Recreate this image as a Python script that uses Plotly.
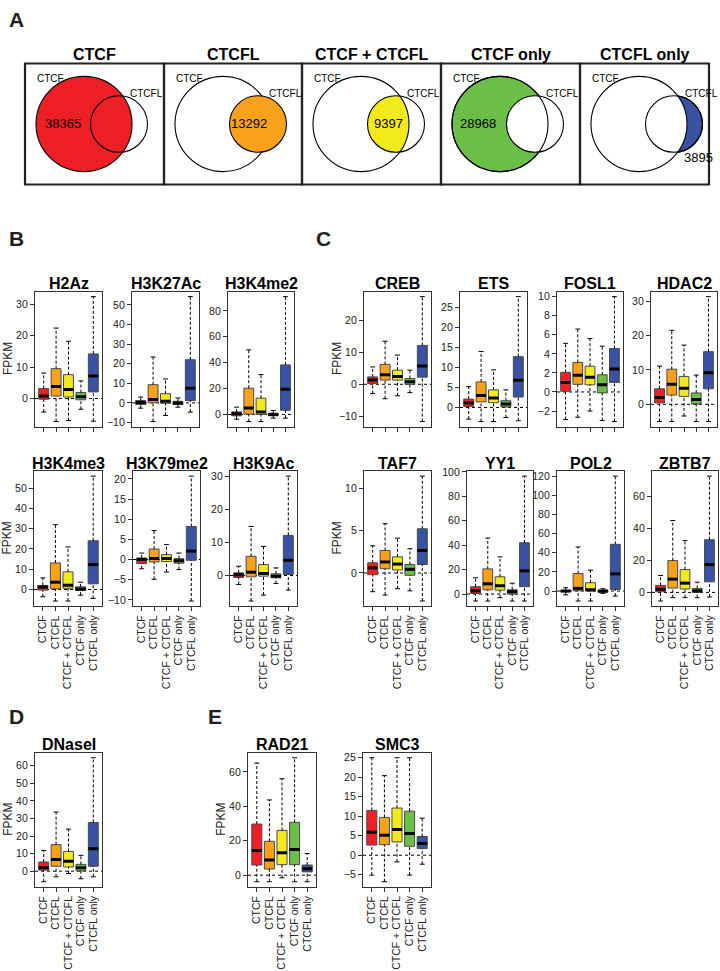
import numpy as np
import plotly.graph_objects as go

W, H = 720, 971
FONT = "Liberation Sans, Arial, sans-serif"

GROUPS = ["CTCF", "CTCFL", "CTCF + CTCFL", "CTCF only", "CTCFL only"]
GROUP_COLORS = ["#EE1F25", "#F8A11B", "#F3EA1C", "#6BBE46", "#3953A4"]
VENN_COUNTS = [38365, 13292, 9397, 28968, 3895]

# (lower whisker, Q1, median, Q3, upper whisker) for each group
H2AZ = [(-4.3, -0.2, 0.8, 3.2, 8.1), (-7.3, 0.8, 3.8, 9.5, 22.4), (-7.0, 0.5, 2.9, 7.6, 18.2),
        (-3.4, -0.4, 0.6, 1.9, 5.6), (-7.2, 2.1, 7.2, 14.2, 32.4)]
H3K27AC = [(-2.7, -0.8, 0.2, 1.2, 3.0), (-9.5, 0.1, 1.7, 9.3, 23.4), (-6.4, -0.2, 0.8, 4.7, 12.2),
           (-2.2, -0.8, 0.0, 0.8, 2.5), (-4.7, 1.2, 7.5, 22.0, 54.2)]
H3K4ME2 = [(-3.6, -1.0, 0.5, 2.0, 5.7), (-5.4, 0.3, 5.1, 20.3, 49.9), (-5.4, 0.0, 2.0, 12.6, 30.8),
           (-2.8, -1.0, 0.0, 1.0, 3.1), (-2.8, 3.3, 19.5, 38.3, 91.0)]
H3K4ME3 = [(-3.6, -0.3, 1.2, 2.0, 5.7), (-5.7, 0.3, 3.6, 13.1, 32.0), (-5.7, 0.6, 2.1, 8.7, 21.0),
           (-2.8, -0.5, 0.2, 1.3, 3.6), (-4.4, 2.8, 12.3, 24.1, 56.0)]
H3K79ME2 = [(-2.3, -1.0, 0.0, 0.4, 1.6), (-4.9, -0.6, 0.25, 2.6, 7.2), (-3.1, -0.5, 0.25, 1.2, 3.7),
            (-2.5, -0.9, -0.3, 0.2, 1.6), (-10.3, -0.2, 2.1, 8.2, 20.7)]
H3K9AC = [(-2.7, -0.6, 0.2, 0.8, 2.8), (-7.7, -0.4, 1.0, 5.8, 14.8), (-5.9, -0.2, 0.6, 3.3, 8.8),
          (-2.4, -0.7, -0.2, 0.5, 2.3), (-4.4, 0.3, 4.6, 12.1, 30.0)]
CREB = [(-2.9, 0.2, 1.3, 2.3, 5.4), (-4.5, 1.3, 3.0, 6.2, 13.4), (-3.6, 1.3, 2.4, 4.4, 9.1),
        (-2.6, 0.0, 0.8, 1.8, 4.4), (-11.6, 2.2, 5.7, 12.1, 27.3)]
ETS = [(-2.9, 0.25, 1.1, 2.1, 5.2), (-3.5, 1.4, 3.0, 6.4, 14.0), (-3.5, 1.2, 2.4, 4.4, 9.4),
       (-2.5, 0.15, 0.9, 1.7, 4.4), (-3.3, 2.6, 6.8, 12.7, 27.7)]
FOSL1 = [(-2.9, 0.07, 1.0, 2.06, 5.1), (-2.65, 0.8, 1.75, 3.1, 6.6), (-2.0, 0.75, 1.55, 2.7, 5.6),
         (-3.0, -0.1, 0.75, 1.8, 4.8), (-3.1, 1.0, 2.4, 4.55, 10.0)]
HDAC2 = [(-5.0, 0.4, 2.0, 4.5, 11.1), (-5.0, 2.7, 5.8, 10.2, 21.5), (-3.4, 2.3, 4.7, 8.1, 17.2),
         (-5.0, 0.1, 1.4, 3.3, 8.5), (-5.0, 4.5, 9.2, 15.3, 31.3)]
TAF7 = [(-2.2, -0.2, 0.6, 1.2, 3.2), (-2.6, 0.5, 1.3, 2.65, 5.8), (-1.85, 0.35, 1.05, 1.9, 4.1),
        (-2.1, -0.27, 0.43, 1.0, 2.85), (-3.3, 1.0, 2.65, 5.2, 11.4)]
YY1 = [(-5.7, 0.5, 2.7, 6.0, 13.3), (-5.7, 3.5, 8.4, 20.6, 45.8), (-3.0, 3.2, 6.8, 14.1, 30.4),
       (-5.7, 0.0, 1.9, 3.5, 8.9), (-5.7, 6.0, 19.0, 42.0, 96.5)]
POL2 = [(-4.0, -0.6, 0.0, 0.8, 3.5), (-10.4, 0.3, 2.8, 18.3, 46.0), (-10.4, 0.0, 1.4, 8.7, 21.8),
        (-2.4, -1.2, 0.0, 0.8, 2.4), (-5.2, 1.7, 18.0, 48.8, 120.0)]
ZBTB7 = [(-5.4, 0.4, 1.9, 4.4, 10.6), (-3.3, 2.7, 8.3, 19.9, 45.0), (-3.3, 2.1, 5.8, 14.3, 32.4),
         (-3.3, 0.0, 1.0, 2.5, 6.4), (-2.9, 6.6, 17.4, 33.0, 72.8)]
DNASEI = [(-6.0, 0.6, 1.9, 5.2, 11.8), (-3.2, 2.8, 6.7, 15.1, 33.6), (-1.3, 2.4, 5.6, 11.2, 23.9),
          (-4.3, 0.2, 1.9, 3.9, 9.0), (-3.2, 2.8, 12.7, 27.7, 64.5)]
RAD21 = [(-3.8, 5.9, 14.4, 29.7, 65.1), (-3.8, 3.6, 8.8, 19.7, 43.7), (-1.5, 6.1, 13.0, 26.0, 56.0),
         (-3.8, 6.1, 14.9, 30.7, 68.2), (-3.8, 1.9, 3.8, 5.9, 12.6)]
SMC3 = [(-5.1, 2.6, 5.9, 11.5, 25.0), (-6.8, 2.7, 5.1, 9.7, 20.4), (-1.7, 3.4, 6.6, 12.1, 25.0),
        (-5.1, 2.3, 5.6, 11.3, 25.0), (-2.3, 1.7, 3.0, 4.8, 9.5)]

MARK_NAMES = ["H2Az", "H3K27Ac", "H3K4me2", "H3K4me3", "H3K79me2", "H3K9Ac",
              "CREB", "ETS", "FOSL1", "HDAC2", "TAF7", "YY1", "POL2", "ZBTB7",
              "DNaseI", "RAD21", "SMC3"]
MARK_STATS = [H2AZ, H3K27AC, H3K4ME2, H3K4ME3, H3K79ME2, H3K9AC,
              CREB, ETS, FOSL1, HDAC2, TAF7, YY1, POL2, ZBTB7,
              DNASEI, RAD21, SMC3]

# ---- layout (pixels): frame x0, x1, y0, y1, tick step, show category labels, show FPKM
PANELS = [
    (35, 102, 288, 424, 10, False, True),
    (132, 199, 288, 424, 10, False, False),
    (228, 294, 288, 424, 20, False, False),
    (34, 102, 469, 605, 10, True, True),
    (133, 200, 469, 605, 5, True, False),
    (230, 297, 469, 605, 10, True, False),
    (364, 431, 288, 424, 10, False, True),
    (460, 527, 288, 424, 5, False, False),
    (557, 623, 288, 424, 2, False, False),
    (651, 717, 288, 424, 10, False, False),
    (364, 431, 469, 605, 5, True, True),
    (467, 533, 469, 605, 20, True, False),
    (557, 624, 469, 605, 20, True, False),
    (652, 718, 469, 605, 20, True, False),
    (35, 102, 753, 888, 10, True, True),
    (248, 316, 753, 888, 20, True, True),
    (363, 431, 753, 888, 5, True, False),
]


def px(x):
    return x / W


def py(y):
    return 1 - y / H


fig = go.Figure()
layout = {}
shapes = []
annotations = []

FRAME = "#333333"
TICKFONT = dict(family=FONT, size=10.5, color="#222222")

for n, (name, stats, panel) in enumerate(zip(MARK_NAMES, MARK_STATS, PANELS), start=1):
    x0, x1, y0, y1, dtick, show_lab, show_ylab = panel
    sfx = "" if n == 1 else str(n)
    xa, ya = f"x{sfx}", f"y{sfx}"
    lo = [s[0] for s in stats]
    q1 = [s[1] for s in stats]
    md = [s[2] for s in stats]
    q3 = [s[3] for s in stats]
    hi = [s[4] for s in stats]
    pos = list(range(1, len(GROUPS) + 1))

    for i, g in enumerate(GROUPS):
        fig.add_trace(go.Box(
            x=[pos[i]], q1=[q1[i]], median=[md[i]], q3=[q3[i]],
            lowerfence=[q1[i]], upperfence=[q3[i]],
            fillcolor=GROUP_COLORS[i], line=dict(color="#4a4a4a", width=1),
            width=0.8, whiskerwidth=0, xaxis=xa, yaxis=ya,
            showlegend=False, hoverinfo="skip", name=g))

    wx, wy, cx, cy, mx, my = [], [], [], [], [], []
    for i in range(len(GROUPS)):
        p = pos[i]
        wx += [p, p, None, p, p, None]
        wy += [q3[i], hi[i], None, lo[i], q1[i], None]
        cx += [p - 0.2, p + 0.2, None, p - 0.2, p + 0.2, None]
        cy += [hi[i], hi[i], None, lo[i], lo[i], None]
        mx += [p - 0.4, p + 0.4, None]
        my += [md[i], md[i], None]
    fig.add_trace(go.Scatter(x=wx, y=wy, mode="lines", xaxis=xa, yaxis=ya,
                             line=dict(color="black", width=1, dash="3px,2px"),
                             showlegend=False, hoverinfo="skip"))
    fig.add_trace(go.Scatter(x=cx, y=cy, mode="lines", xaxis=xa, yaxis=ya,
                             line=dict(color="black", width=1),
                             showlegend=False, hoverinfo="skip"))
    fig.add_trace(go.Scatter(x=mx, y=my, mode="lines", xaxis=xa, yaxis=ya,
                             line=dict(color="black", width=3),
                             showlegend=False, hoverinfo="skip"))

    vmin, vmax = min(lo), max(hi)
    pad = 0.04 * (vmax - vmin)
    layout[f"xaxis{sfx}"] = dict(
        domain=[px(x0), px(x1)], range=[0.3, 5.7], anchor=ya,
        tickmode="array", tickvals=pos, ticktext=GROUPS if show_lab else [""] * 5,
        showticklabels=show_lab, tickangle=-90, tickfont=TICKFONT,
        ticks="outside", ticklen=4, tickcolor=FRAME, tickwidth=1,
        showline=True, mirror=True, linecolor=FRAME, linewidth=1.3,
        showgrid=False, zeroline=False, fixedrange=True)
    layout[f"yaxis{sfx}"] = dict(
        domain=[py(y1), py(y0)], range=[vmin - pad, vmax + pad], anchor=xa,
        tick0=0, dtick=dtick, tickfont=TICKFONT,
        ticks="outside", ticklen=4, tickcolor=FRAME, tickwidth=1,
        showline=True, mirror=True, linecolor=FRAME, linewidth=1.3,
        showgrid=False, zeroline=False, fixedrange=True)

    shapes.append(dict(type="line", xref=f"{xa} domain", yref=ya, x0=0, x1=1, y0=0, y1=0,
                       line=dict(color="black", width=1, dash="3px,3px"), layer="below"))
    annotations.append(dict(text=f"<b>{name}</b>", xref="paper", yref="paper",
                            x=px((x0 + x1) / 2), y=py(y0 - 8), xanchor="center", yanchor="middle",
                            showarrow=False, font=dict(family=FONT, size=16, color="black")))
    if show_ylab:
        annotations.append(dict(text="FPKM", xref="paper", yref="paper", textangle=-90,
                                x=px(x0 - 27), y=py((y0 + y1) / 2), xanchor="center",
                                yanchor="middle", showarrow=False,
                                font=dict(family=FONT, size=12, color="#222222")))

# ---- panel A: Venn diagrams
VENN_EDGES = [25, 164, 302, 441, 580, 709]
VY0, VY1, VCY = 58, 180, 119
R1, R2, D1, D2 = 48, 28.5, 59, 94
NUM_POS = [(38, 118), (85, 118), (86, 118), (37, 118), (118, 153)]


def circle(cx, cy, r, fill, line=True):
    return dict(type="circle", xref="paper", yref="paper", layer="above",
                x0=px(cx - r), x1=px(cx + r), y0=py(cy + r), y1=py(cy - r),
                fillcolor=fill,
                line=dict(color="black", width=1.1) if line else dict(width=0))


def lens_path(c1, c2, r1, r2, cy):
    d = c2 - c1
    xi = (d ** 2 + r1 ** 2 - r2 ** 2) / (2 * d)
    yi = np.sqrt(r1 ** 2 - xi ** 2)
    a1 = np.arctan2(yi, xi)
    a2 = np.arctan2(yi, xi - d)
    t2 = np.linspace(a2, 2 * np.pi - a2, 60)
    t1 = np.linspace(-a1, a1, 40)
    xs = list(c2 + r2 * np.cos(t2)) + list(c1 + r1 * np.cos(t1))
    ys = list(cy + r2 * np.sin(t2)) + list(cy + r1 * np.sin(t1))
    pts = [f"{px(x):.5f},{py(y):.5f}" for x, y in zip(xs, ys)]
    return "M " + " L ".join(pts) + " Z"


for k in range(5):
    bx0, bx1 = VENN_EDGES[k], VENN_EDGES[k + 1]
    c1, c2 = bx0 + D1, bx0 + D2
    col = GROUP_COLORS[k]
    if k == 0:
        shapes += [circle(c1, VCY, R1, col), circle(c2, VCY, R2, "rgba(0,0,0,0)")]
    elif k == 1:
        shapes += [circle(c1, VCY, R1, "rgba(0,0,0,0)"), circle(c2, VCY, R2, col)]
    elif k == 2:
        shapes.append(dict(type="path", xref="paper", yref="paper", layer="above",
                           path=lens_path(c1, c2, R1, R2, VCY), fillcolor=col,
                           line=dict(width=0)))
        shapes += [circle(c1, VCY, R1, "rgba(0,0,0,0)"), circle(c2, VCY, R2, "rgba(0,0,0,0)")]
    elif k == 3:
        shapes += [circle(c1, VCY, R1, col), circle(c2, VCY, R2, "white"),
                   circle(c1, VCY, R1, "rgba(0,0,0,0)")]
    else:
        shapes += [circle(c2, VCY, R2, col), circle(c1, VCY, R1, "white"),
                   circle(c2, VCY, R2, "rgba(0,0,0,0)")]
    shapes.append(dict(type="rect", xref="paper", yref="paper", layer="above",
                       x0=px(bx0), x1=px(bx1), y0=py(VY1), y1=py(VY0),
                       line=dict(color="#222222", width=2.2)))
    annotations.append(dict(text=f"<b>{GROUPS[k]}</b>", xref="paper", yref="paper",
                            x=px((bx0 + bx1) / 2), y=py(49), xanchor="center", yanchor="middle",
                            showarrow=False, font=dict(family=FONT, size=16, color="black")))
    annotations.append(dict(text="CTCF", xref="paper", yref="paper", x=px(bx0 + 25), y=py(73),
                            xanchor="center", yanchor="middle", showarrow=False,
                            font=dict(family=FONT, size=10, color="black")))
    annotations.append(dict(text="CTCFL", xref="paper", yref="paper", x=px(bx0 + 121), y=py(88),
                            xanchor="center", yanchor="middle", showarrow=False,
                            font=dict(family=FONT, size=10, color="black")))
    nx, ny = NUM_POS[k]
    annotations.append(dict(text=str(VENN_COUNTS[k]), xref="paper", yref="paper",
                            x=px(bx0 + nx), y=py(ny), xanchor="center", yanchor="middle",
                            showarrow=False, font=dict(family=FONT, size=13, color="black")))

# ---- panel letters
for letter, (lx, ly) in zip("ABCDE", [(16, 14), (16, 234), (323, 234), (16, 716), (215, 716)]):
    annotations.append(dict(text=f"<b>{letter}</b>", xref="paper", yref="paper",
                            x=px(lx), y=py(ly), xanchor="center", yanchor="middle",
                            showarrow=False, font=dict(family=FONT, size=21, color="#231f20")))

fig.update_layout(
    width=W, height=H, autosize=False,
    margin=dict(l=0, r=0, t=0, b=0, pad=0),
    paper_bgcolor="white", plot_bgcolor="white",
    showlegend=False, boxmode="overlay",
    font=dict(family=FONT, color="#222222"),
    shapes=shapes, annotations=annotations, **layout)

fig.write_html("out.html", config={"displayModeBar": False},
               post_script="document.body.style.margin='0px';document.body.style.overflow='hidden';")
